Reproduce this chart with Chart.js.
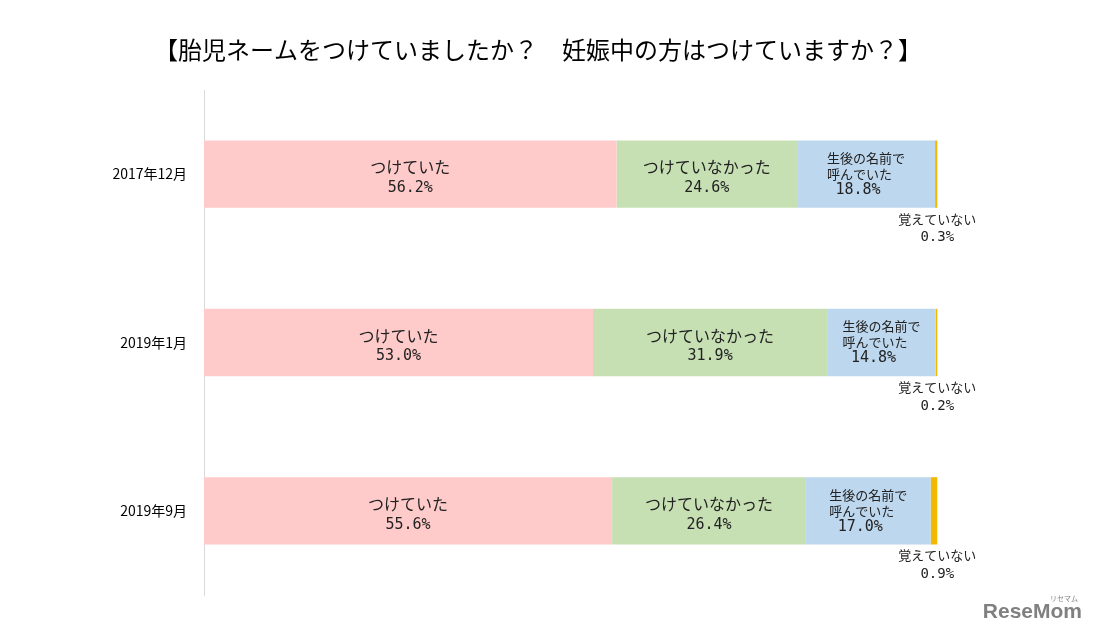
<!DOCTYPE html>
<html>
<head>
<meta charset="utf-8">
<script src="https://cdn.jsdelivr.net/npm/chart.js@4/dist/chart.umd.min.js"></script>
<style>
  html, body { margin: 0; padding: 0; background: #fff; }
  #wrap { width: 1093px; height: 635px; position: relative; }
</style>
</head>
<body>
<div id="wrap"><canvas id="nameChart" width="1093" height="635"></canvas></div>
<script>
const chartTitle = '【胎児ネームをつけていましたか？　妊娠中の方はつけていますか？】';
const periods = ['2017年12月', '2019年1月', '2019年9月'];
const seriesNames = ['つけていた', 'つけていなかった', '生後の名前で\n呼んでいた', '覚えていない'];
const named = [56.2, 53.0, 55.6];
const notNamed = [24.6, 31.9, 26.4];
const afterBirth = [18.8, 14.8, 17.0];
const dontRemember = [0.3, 0.2, 0.9];
const colors = ['#ffcaca', '#c6e0b4', '#bdd7ee', '#f5b800'];

const JP = '"Noto Sans CJK JP", "Noto Sans", sans-serif';
const MONO = '"DejaVu Sans Mono", "Liberation Mono", monospace';

// title, segment labels and watermark
const segmentLabels = {
  id: 'segmentLabels',
  afterDatasetsDraw(chart) {
    const ctx = chart.ctx;
    ctx.save();
    ctx.fillStyle = '#000';
    ctx.textBaseline = 'middle';
    ctx.textAlign = 'center';
    ctx.font = '24px ' + JP;
    ctx.fillText(chartTitle, 538, 50);

    ctx.fillStyle = '#222';
    chart.data.datasets.forEach((ds, di) => {
      const meta = chart.getDatasetMeta(di);
      meta.data.forEach((bar, i) => {
        const val = ds.data[i].toFixed(1) + '%';
        const left = Math.min(bar.x, bar.base);
        const right = Math.max(bar.x, bar.base);
        const cx = (left + right) / 2;
        const lines = seriesNames[di].split('\n');
        if (di === 3) {
          ctx.font = '13px ' + JP;
          ctx.textAlign = 'center';
          const bottom = bar.y + bar.height / 2;
          ctx.fillText(lines[0], right, bottom + 11);
          ctx.font = '14px ' + MONO;
          ctx.fillText(val, right, bottom + 30);
        } else if (di === 2) {
          ctx.font = '13px ' + JP;
          const w = ctx.measureText(lines[0]).width;
          const lx = cx - w / 2;
          ctx.textAlign = 'left';
          ctx.fillText(lines[0], lx, bar.y - 16);
          ctx.fillText(lines[1], lx, bar.y);
          ctx.font = '15px ' + MONO;
          ctx.textAlign = 'center';
          ctx.fillText(val, cx - 8, bar.y + 16);
        } else {
          ctx.font = '16px ' + JP;
          ctx.textAlign = 'center';
          ctx.fillText(lines[0], cx, bar.y - 7);
          ctx.font = '15px ' + MONO;
          ctx.fillText(val, cx, bar.y + 14);
        }
      });
    });
    // watermark
    ctx.font = 'bold 21px "Liberation Sans", Arial, sans-serif';
    ctx.fillStyle = '#808080';
    ctx.textAlign = 'right';
    ctx.fillText('ReseMom', 1082, 612);
    ctx.font = '7px ' + JP;
    ctx.fillText('リセマム', 1078, 598);
    ctx.restore();
  }
};

function makeSet(label, data, color) {
  return { label: label, data: data, backgroundColor: color, borderWidth: 0 };
}

new Chart(document.getElementById('nameChart'), {
  type: 'bar',
  data: {
    labels: periods,
    datasets: [
      makeSet(seriesNames[0], named, colors[0]),
      makeSet(seriesNames[1], notNamed, colors[1]),
      makeSet(seriesNames[2], afterBirth, colors[2]),
      makeSet(seriesNames[3], dontRemember, colors[3])
    ]
  },
  options: {
    indexAxis: 'y',
    responsive: false,
    animation: false,
    categoryPercentage: 1,
    barPercentage: 0.4,
    layout: { padding: { left: 0, right: 155, bottom: 40, top: 90 } },
    scales: {
      x: {
        stacked: true,
        min: 0,
        max: 100,
        display: false
      },
      y: {
        stacked: true,
        grid: { display: false, drawTicks: false },
        border: { display: true, color: '#d9d9d9', width: 1 },
        ticks: { color: '#000', font: { family: JP, size: 14 }, padding: 17 },
        afterFit(scale) { scale.width = 204; }
      }
    },
    plugins: {
      legend: { display: false },
      tooltip: { enabled: false },
      title: { display: false }
    }
  },
  plugins: [segmentLabels]
});
</script>
</body>
</html>
